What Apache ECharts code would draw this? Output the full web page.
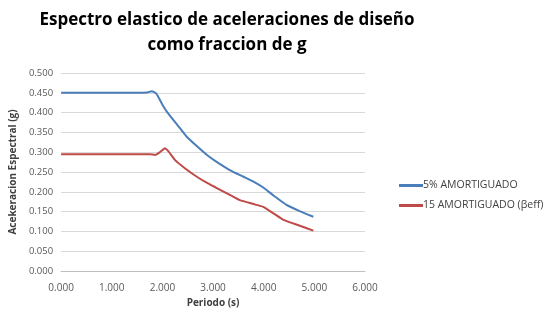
<!DOCTYPE html>
<html><head><meta charset="utf-8">
<script src="https://cdn.jsdelivr.net/npm/echarts@6/dist/echarts.min.js"></script>
<style>html,body{margin:0;padding:0;background:#fff}#c{width:544px;height:313px}</style>
</head><body><div id="c"></div>
<script>
var periodo5 = [0, 0.5, 1.0, 1.5, 1.7, 1.79, 1.88, 2.0, 2.09, 2.3, 2.48, 2.7, 2.88, 3.1, 3.33, 3.6, 3.85, 3.99, 4.2, 4.45, 4.7, 4.98];
var amort5 = [0.450, 0.450, 0.450, 0.450, 0.451, 0.454, 0.448, 0.420, 0.402, 0.368, 0.339, 0.313, 0.293, 0.273, 0.255, 0.238, 0.222, 0.211, 0.190, 0.167, 0.152, 0.137];
var periodo15 = [0, 0.5, 1.0, 1.5, 1.75, 1.86, 1.95, 2.05, 2.12, 2.25, 2.45, 2.68, 2.9, 3.14, 3.35, 3.53, 3.8, 3.99, 4.2, 4.39, 4.7, 4.98];
var amort15 = [0.295, 0.295, 0.295, 0.295, 0.295, 0.293, 0.300, 0.310, 0.302, 0.280, 0.259, 0.238, 0.221, 0.205, 0.191, 0.179, 0.169, 0.162, 0.145, 0.129, 0.115, 0.102];
var xTicks = {min: 0, max: 6, interval: 1};
var yTicks = {min: 0, max: 0.5, interval: 0.05};
var seriesNames = ['5% AMORTIGUADO', '15 AMORTIGUADO (βeff)'];
var titleText = 'Espectro elastico de aceleraciones de diseño\ncomo fraccion de g';

function zip(a, b){ return a.map(function(v, i){ return [v, b[i]]; }); }
var font = 'Open Sans';
var chart = echarts.init(document.getElementById('c'));
chart.setOption({
  animation: false,
  textStyle: {fontFamily: font},
  title: {text: titleText, left: 222, textAlign: 'center', top: 3,
    textStyle: {fontFamily: font, fontSize: 17, fontWeight: 'bold', color: '#000', lineHeight: 25}},
  grid: {left: 61, right: 179, top: 73, bottom: 42},
  legend: {orient: 'vertical', left: 394, top: 175, itemWidth: 24, itemHeight: 3, itemGap: 9,
    icon: 'rect', textStyle: {fontSize: 10.5, color: '#404040', fontFamily: font, padding: [0,0,0,-5]},
    data: seriesNames},
  xAxis: {type: 'value', min: xTicks.min, max: xTicks.max, interval: xTicks.interval,
    name: 'Periodo (s)', nameLocation: 'middle', nameGap: 25,
    nameTextStyle: {fontSize: 10, fontWeight: 'bold', color: '#404040'},
    axisLine: {lineStyle: {color: '#bfbfbf'}}, axisTick: {show: false},
    splitLine: {show: false},
    axisLabel: {color: '#595959', fontSize: 10, margin: 12, formatter: function(v){return v.toFixed(3);}}},
  yAxis: {type: 'value', min: yTicks.min, max: yTicks.max, interval: yTicks.interval,
    name: 'Acekeracion Espectral (g)', nameLocation: 'middle', nameGap: 37,
    nameTextStyle: {fontSize: 10, fontWeight: 'bold', color: '#404040'},
    axisLine: {show: false}, axisTick: {show: false},
    splitLine: {lineStyle: {color: '#d9d9d9'}},
    axisLabel: {color: '#595959', fontSize: 9.5, margin: 8, formatter: function(v){return v.toFixed(3);}}},
  series: [
    {name: seriesNames[0], type: 'line', data: zip(periodo5, amort5), smooth: 0.15, showSymbol: false,
      lineStyle: {color: '#4a7ebb', width: 2}, itemStyle: {color: '#4a7ebb'}},
    {name: seriesNames[1], type: 'line', data: zip(periodo15, amort15), smooth: 0.15, showSymbol: false,
      lineStyle: {color: '#be4b48', width: 2}, itemStyle: {color: '#be4b48'}}
  ]
});
</script></body></html>
